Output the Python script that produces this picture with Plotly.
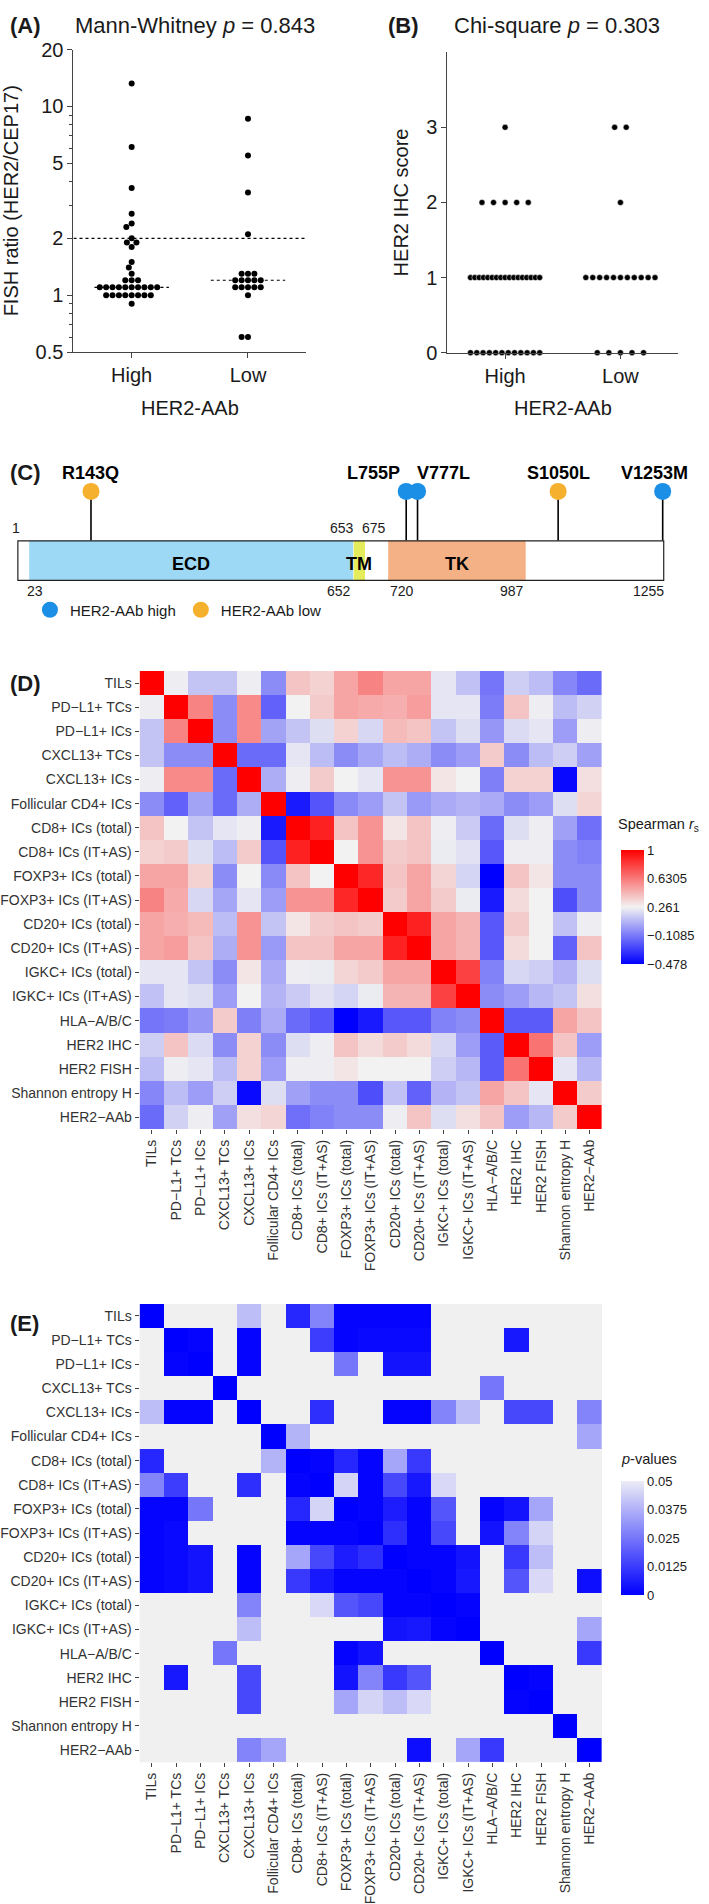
import numpy as np
import plotly.graph_objects as go

W, H = 709, 1904
FONT = "Liberation Sans, Arial, Helvetica, sans-serif"
TXT = "#1a1a1a"


def fx(px):
    return px / W


def fy(py):
    return 1 - py / H


# ---------------- Panel A: FISH ratio ----------------
groups = ["High", "Low"]
fish_high = [13.2, 6.1, 3.7, 2.7, 2.4, 2.3, 2.0, 1.9, 1.9, 1.8, 1.5, 1.4, 1.3,
             1.2, 1.2, 1.2,
             1.1, 1.1, 1.1, 1.1, 1.1, 1.1, 1.1, 1.1, 1.1, 1.1,
             1.0, 1.0, 1.0, 1.0, 1.0, 1.0, 1.0, 1.0,
             0.9]
fish_low = [8.6, 5.5, 3.5, 2.1,
            1.3, 1.3, 1.3,
            1.2, 1.2, 1.2, 1.2, 1.2,
            1.1, 1.1, 1.1, 1.1, 1.1,
            1.0, 0.6, 0.6]
fish_cutoff = 2.0
fish_ticks = [0.5, 1, 2, 5, 10, 20]
fish_minor = [0.6, 0.7, 0.8, 0.9, 3, 4, 6, 7, 8, 9]
mw_p = "0.843"

# ---------------- Panel B: IHC score ----------------
ihc_high = [3, 2, 2, 2, 2, 2,
            1, 1, 1, 1, 1, 1, 1, 1, 1, 1, 1, 1, 1, 1, 1, 1, 1,
            0, 0, 0, 0, 0, 0, 0, 0, 0, 0, 0, 0]
ihc_low = [3, 3, 2,
           1, 1, 1, 1, 1, 1, 1, 1, 1, 1, 1,
           0, 0, 0, 0, 0]
ihc_ticks = [0, 1, 2, 3]
chi_p = "0.303"

# ---------------- Panel C: HER2 protein ----------------
protein_length = 1255
domain_names = ["ECD", "TM", "TK"]
domain_start = [23, 653, 720]
domain_end = [652, 675, 987]
domain_colors = ["#9DD8F4", "#E4EC5C", "#F3B185"]
mutation_labels = ["R143Q", "L755P", "V777L", "S1050L", "V1253M"]
mutation_pos = [143, 755, 777, 1050, 1253]
mutation_group = ["low", "high", "high", "low", "high"]
group_names = {"high": "HER2-AAb high", "low": "HER2-AAb low"}
group_colors = {"high": "#1B8FE6", "low": "#F5B02E"}

# ---------------- Panels D/E: correlation matrices ----------------
feature_labels = ["TILs", "PD−L1+ TCs", "PD−L1+ ICs", "CXCL13+ TCs", "CXCL13+ ICs",
                  "Follicular CD4+ ICs", "CD8+ ICs (total)", "CD8+ ICs (IT+AS)",
                  "FOXP3+ ICs (total)", "FOXP3+ ICs (IT+AS)", "CD20+ ICs (total)",
                  "CD20+ ICs (IT+AS)", "IGKC+ ICs (total)", "IGKC+ ICs (IT+AS)",
                  "HLA−A/B/C", "HER2 IHC", "HER2 FISH", "Shannon entropy H", "HER2−AAb"]

spearman_rs = [
    [1, 0.25, 0.12, 0.12, 0.25, -0.05, 0.4, 0.36, 0.5, 0.6, 0.5, 0.5, 0.22, 0.11, -0.12, 0.15, 0.1, -0.07, -0.15],
    [0.25, 1, 0.6, -0.05, 0.58, -0.18, 0.26, 0.38, 0.5, 0.48, 0.47, 0.52, 0.22, 0.22, -0.1, 0.4, 0.25, 0.1, 0.16],
    [0.12, 0.6, 1, -0.05, 0.58, 0.02, 0.12, 0.2, 0.36, 0.18, 0.43, 0.4, 0.12, 0.2, -0.02, 0.19, 0.22, 0.0, 0.25],
    [0.12, -0.05, -0.05, 1, -0.15, -0.15, 0.22, 0.1, -0.05, 0.03, 0.1, 0.05, -0.05, 0.0, 0.38, -0.05, 0.1, 0.15, 0.01],
    [0.25, 0.58, 0.58, -0.15, 1, 0.05, 0.25, 0.38, 0.26, 0.22, 0.55, 0.55, 0.3, 0.26, -0.09, 0.36, 0.36, -0.45, 0.32],
    [-0.05, -0.18, 0.02, -0.15, 0.05, 1, -0.4, -0.22, -0.06, 0.0, 0.12, -0.01, 0.04, 0.07, 0.04, -0.05, 0.0, 0.2, 0.35],
    [0.4, 0.26, 0.12, 0.22, 0.25, -0.4, 1, 0.9, 0.4, 0.55, 0.3, 0.4, 0.25, 0.14, -0.15, 0.2, 0.25, 0.01, -0.14],
    [0.36, 0.38, 0.2, 0.1, 0.38, -0.22, 0.9, 1, 0.26, 0.55, 0.38, 0.4, 0.24, 0.21, -0.21, 0.25, 0.25, -0.05, -0.08],
    [0.5, 0.5, 0.36, -0.05, 0.26, -0.06, 0.4, 0.26, 1, 0.88, 0.4, 0.5, 0.35, 0.17, -0.478, 0.4, 0.3, -0.05, -0.05],
    [0.6, 0.48, 0.18, 0.03, 0.22, 0.0, 0.55, 0.55, 0.88, 1, 0.38, 0.5, 0.38, 0.24, -0.4, 0.33, 0.26, -0.24, -0.05],
    [0.5, 0.47, 0.43, 0.1, 0.55, 0.12, 0.3, 0.38, 0.4, 0.38, 1, 0.9, 0.5, 0.45, -0.21, 0.38, 0.26, 0.11, 0.25],
    [0.5, 0.52, 0.4, 0.05, 0.55, -0.01, 0.4, 0.4, 0.5, 0.5, 0.9, 1, 0.5, 0.45, -0.21, 0.33, 0.26, -0.18, 0.4],
    [0.22, 0.22, 0.12, -0.05, 0.3, 0.04, 0.25, 0.24, 0.35, 0.38, 0.5, 0.5, 1, 0.8, -0.08, 0.18, 0.15, 0.07, 0.2],
    [0.11, 0.22, 0.2, 0.0, 0.26, 0.07, 0.14, 0.21, 0.17, 0.24, 0.45, 0.45, 0.8, 1, -0.05, 0.0, 0.08, 0.12, 0.32],
    [-0.12, -0.1, -0.02, 0.38, -0.09, 0.04, -0.15, -0.21, -0.478, -0.4, -0.21, -0.21, -0.08, -0.05, 1, -0.2, -0.2, 0.5, 0.4],
    [0.15, 0.4, 0.19, -0.05, 0.36, -0.05, 0.2, 0.25, 0.4, 0.33, 0.38, 0.33, 0.18, 0.0, -0.2, 1, 0.65, 0.4, 0.0],
    [0.1, 0.25, 0.22, 0.1, 0.36, 0.0, 0.25, 0.25, 0.3, 0.26, 0.26, 0.26, 0.15, 0.08, -0.2, 0.65, 1, 0.22, 0.08],
    [-0.07, 0.1, 0.0, 0.15, -0.45, 0.2, 0.01, -0.05, -0.05, -0.24, 0.11, -0.18, 0.07, 0.12, 0.5, 0.4, 0.22, 1, 0.38],
    [-0.15, 0.16, 0.25, 0.01, 0.32, 0.35, -0.14, -0.08, -0.05, -0.05, 0.25, 0.4, 0.2, 0.32, 0.4, 0.0, 0.08, 0.38, 1],
]
rs_ticks = [1, 0.6305, 0.261, -0.1085, -0.478]
rs_ticktext = ["1", "0.6305", "0.261", "−0.1085", "−0.478"]

N = None  # not significant (p > 0.05)
p_values = [
    [0, N, N, N, 0.04, N, 0.008, 0.028, 0.001, 0.001, 0.001, 0.001, N, N, N, N, N, N, N],
    [N, 0, 0.001, N, 0.001, N, N, 0.013, 0.001, 0.002, 0.002, 0.002, N, N, N, 0.005, N, N, N],
    [N, 0.001, 0, N, 0.001, N, N, N, 0.025, N, 0.004, 0.004, N, N, N, N, N, N, N],
    [N, N, N, 0, N, N, N, N, N, N, N, N, N, N, 0.025, N, N, N, N],
    [0.04, 0.001, 0.001, N, 0, N, N, 0.01, N, N, 0.001, 0.001, 0.028, 0.04, N, 0.015, 0.015, N, 0.028],
    [N, N, N, N, N, 0, 0.038, N, N, N, N, N, N, N, N, N, N, N, 0.035],
    [0.008, N, N, N, N, 0.038, 0, 0.001, 0.008, 0.001, 0.035, 0.012, N, N, N, N, N, N, N],
    [0.028, 0.013, N, N, 0.01, N, 0.001, 0, 0.045, 0.001, 0.015, 0.005, 0.046, N, N, N, N, N, N],
    [0.001, 0.001, 0.025, N, N, N, 0.008, 0.045, 0, 0.001, 0.006, 0.001, 0.018, N, 0.001, 0.004, 0.035, N, N],
    [0.001, 0.002, N, N, N, N, 0.001, 0.001, 0.001, 0, 0.01, 0.001, 0.015, N, 0.004, 0.028, 0.045, N, N],
    [0.001, 0.002, 0.004, N, 0.001, N, 0.035, 0.015, 0.006, 0.01, 0, 0.001, 0.001, 0.004, N, 0.012, 0.04, N, N],
    [0.001, 0.002, 0.004, N, 0.001, N, 0.012, 0.005, 0.001, 0.001, 0.001, 0, 0.001, 0.005, N, 0.018, 0.046, N, 0.003],
    [N, N, N, N, 0.028, N, N, 0.046, 0.018, 0.015, 0.001, 0.001, 0, 0.001, N, N, N, N, N],
    [N, N, N, N, 0.04, N, N, N, N, N, 0.004, 0.005, 0.001, 0, N, N, N, N, 0.035],
    [N, N, N, 0.025, N, N, N, N, 0.001, 0.004, N, N, N, N, 0, N, N, N, 0.012],
    [N, 0.005, N, N, 0.015, N, N, N, 0.004, 0.028, 0.012, 0.018, N, N, N, 0, 0.001, N, N],
    [N, N, N, N, 0.015, N, N, N, 0.035, 0.045, 0.04, 0.046, N, N, N, 0.001, 0, N, N],
    [N, N, N, N, N, N, N, N, N, N, N, N, N, N, N, N, N, 0, N],
    [N, N, N, N, 0.028, 0.035, N, N, N, N, N, 0.003, N, 0.035, 0.012, N, N, N, 0],
]
p_ticks = [0.05, 0.0375, 0.025, 0.0125, 0]
p_ticktext = ["0.05", "0.0375", "0.025", "0.0125", "0"]

# ---------------- layout geometry (pixels) ----------------
A_left, A_right, A_top, A_bot = 71.7, 305.0, 39.0, 345.0
B_left, B_right, B_top, B_bot = 446.7, 678.0, 41.7, 345.7
X_UNIT_PX = (A_right - A_left) / 2.0
DOT_PX = 6.0


def beeswarm_offsets(values, d=6.4):
    ymin, ymax = np.log10(fish_ticks[0]), np.log10(fish_ticks[-1])
    ypx = (np.log10(values) - ymin) / (ymax - ymin) * (A_bot - A_top)
    xs = np.zeros(len(values))
    placed = []
    for i in np.argsort(-ypx, kind="stable"):
        cands = [0.0]
        for xj, yj in placed:
            dy = abs(ypx[i] - yj)
            if dy < d:
                dx = np.sqrt(d * d - dy * dy)
                cands += [xj + dx, xj - dx]
        ok = [c for c in cands
              if all((c - xj) ** 2 + (ypx[i] - yj) ** 2 >= d * d - 1e-6 for xj, yj in placed)]
        best = min(ok, key=lambda c: (round(abs(c), 6), c))
        xs[i] = best
        placed.append((best, ypx[i]))
    return xs / X_UNIT_PX


def row_offsets(scores, step_px=11.7, max_px=70.0):
    scores = np.asarray(scores)
    off = np.zeros(len(scores))
    for v in np.unique(scores):
        idx = np.where(scores == v)[0]
        n = len(idx)
        if n > 1:
            step = min(step_px, max_px / (n - 1))
            off[idx] = (np.arange(n) - (n - 1) / 2) * step
    return off / X_UNIT_PX


fig = go.Figure()

# ---- Panel A traces
for gi, vals in enumerate([fish_high, fish_low]):
    vals = np.asarray(vals, dtype=float)
    fig.add_trace(go.Scatter(
        x=gi + beeswarm_offsets(vals), y=vals, mode="markers",
        marker=dict(size=DOT_PX, color="black"), xaxis="x", yaxis="y",
        showlegend=False, cliponaxis=False, hoverinfo="skip"))
    med = float(np.median(vals))
    fig.add_trace(go.Scatter(
        x=[gi - 0.32, gi + 0.32], y=[med, med], mode="lines",
        line=dict(color="black", width=1.1, dash="dot"), xaxis="x", yaxis="y",
        showlegend=False, hoverinfo="skip"))
fig.add_trace(go.Scatter(
    x=[-0.5, 1.5], y=[fish_cutoff, fish_cutoff], mode="lines",
    line=dict(color="black", width=1.1, dash="dot"), xaxis="x", yaxis="y",
    showlegend=False, hoverinfo="skip"))

# ---- Panel B traces
for gi, vals in enumerate([ihc_high, ihc_low]):
    vals = np.asarray(vals, dtype=float)
    fig.add_trace(go.Scatter(
        x=gi + row_offsets(vals), y=vals, mode="markers",
        marker=dict(size=DOT_PX, color="black", line=dict(color="white", width=0.5)),
        xaxis="x2", yaxis="y2", showlegend=False, cliponaxis=False, hoverinfo="skip"))

# ---- Panel C
C_BAR_BOTTOM_PX, C_BAR_PX = 576.0, 40.0
C_DOM_TOP, C_DOM_BOT = 450.0, 600.0
head_y = 2.25
shapes = []
shapes.append(dict(type="rect", xref="x3", yref="y3", x0=1, x1=protein_length, y0=0, y1=1,
                   fillcolor="white", line=dict(width=0), layer="above"))
for s, e, c in zip(domain_start, domain_end, domain_colors):
    shapes.append(dict(type="rect", xref="x3", yref="y3", x0=s, x1=e, y0=0, y1=1,
                       fillcolor=c, line=dict(width=0), layer="above"))
shapes.append(dict(type="rect", xref="x3", yref="y3", x0=1, x1=protein_length, y0=0, y1=1,
                   fillcolor="rgba(0,0,0,0)", line=dict(color="#222", width=1.2), layer="above"))
for p in mutation_pos:
    shapes.append(dict(type="line", xref="x3", yref="y3", x0=p, x1=p, y0=1, y1=head_y,
                       line=dict(color="black", width=1.6), layer="below"))

for g in ["high", "low"]:
    xs = [p for p, gg in zip(mutation_pos, mutation_group) if gg == g]
    fig.add_trace(go.Scatter(
        x=xs, y=[head_y] * len(xs), mode="markers", name=group_names[g],
        marker=dict(size=17, color=group_colors[g]), xaxis="x3", yaxis="y3",
        showlegend=True, cliponaxis=False, hoverinfo="skip"))

annotations = []


def ann(text, xpx, ypx, size, bold=False, xanchor="center", yanchor="middle", angle=0,
        color=TXT):
    annotations.append(dict(
        text=f"<b>{text}</b>" if bold else text, x=fx(xpx), y=fy(ypx), xref="paper",
        yref="paper", xanchor=xanchor, yanchor=yanchor, showarrow=False, textangle=angle,
        font=dict(family=FONT, size=size, color=color)))


label_anchor = {"R143Q": ("center", 0), "L755P": ("right", -4), "V777L": ("left", -3),
                "S1050L": ("center", 0), "V1253M": ("center", -8)}
for lab, p in zip(mutation_labels, mutation_pos):
    xa, xs = label_anchor[lab]
    annotations.append(dict(text=f"<b>{lab}</b>", x=p, y=2.725, xref="x3", yref="y3",
                            xanchor=xa, xshift=xs, showarrow=False,
                            font=dict(family=FONT, size=18, color="black")))
for name, s, e in zip(domain_names, domain_start, domain_end):
    annotations.append(dict(text=f"<b>{name}</b>", x=(s + e) / 2, y=0.42, xref="x3",
                            yref="y3", showarrow=False,
                            font=dict(family=FONT, size=18, color="black")))
num_font = dict(family=FONT, size=14, color=TXT)
annotations.append(dict(text="1", x=1, y=1.33, xref="x3", yref="y3", showarrow=False,
                        xanchor="center", xshift=-2, font=num_font))
annotations.append(dict(text=str(domain_start[1]), x=domain_start[1], y=1.33, xref="x3",
                        yref="y3", showarrow=False, xanchor="right", xshift=2, font=num_font))
annotations.append(dict(text=str(domain_end[1]), x=domain_end[1], y=1.33, xref="x3",
                        yref="y3", showarrow=False, xanchor="left", xshift=-5, font=num_font))
annotations.append(dict(text=str(domain_start[0]), x=domain_start[0], y=-0.27, xref="x3",
                        yref="y3", showarrow=False, xanchor="left", xshift=-4, font=num_font))
annotations.append(dict(text=str(domain_end[0]), x=domain_end[0], y=-0.27, xref="x3",
                        yref="y3", showarrow=False, xanchor="right", font=num_font))
annotations.append(dict(text=str(domain_start[2]), x=domain_start[2], y=-0.27, xref="x3",
                        yref="y3", showarrow=False, xanchor="left", font=num_font))
annotations.append(dict(text=str(domain_end[2]), x=domain_end[2], y=-0.27, xref="x3",
                        yref="y3", showarrow=False, xanchor="right", font=num_font))
annotations.append(dict(text=str(protein_length), x=protein_length, y=-0.27, xref="x3",
                        yref="y3", showarrow=False, xanchor="right", xshift=2, font=num_font))

# ---- Panel D heatmap
fig.add_trace(go.Heatmap(
    z=spearman_rs, x=feature_labels, y=feature_labels, xaxis="x4", yaxis="y4",
    colorscale=[[0, "#0000FF"], [0.5, "#F2F2F2"], [1, "#FF0000"]],
    zmin=rs_ticks[-1], zmax=rs_ticks[0], hoverinfo="skip",
    colorbar=dict(lenmode="pixels", len=113.6, thicknessmode="pixels", thickness=22.6,
                  x=fx(620.7), xanchor="left", y=fy(906.8), yanchor="middle",
                  xpad=0, ypad=0, outlinewidth=0, ticks="", tickvals=rs_ticks,
                  ticktext=rs_ticktext, tickfont=dict(family=FONT, size=13, color=TXT))))

# ---- Panel E heatmap
shapes.append(dict(type="rect", xref="x5 domain", yref="y5 domain", x0=0, x1=1, y0=0, y1=1,
                   fillcolor="#F0F0F0", line=dict(width=0), layer="below"))
fig.add_trace(go.Heatmap(
    z=p_values, x=feature_labels, y=feature_labels, xaxis="x5", yaxis="y5",
    colorscale=[[0, "#0000FF"], [1, "#ECECF6"]], zmin=0, zmax=p_ticks[0],
    hoverinfo="skip",
    colorbar=dict(lenmode="pixels", len=114, thicknessmode="pixels", thickness=22.6,
                  x=fx(620.7), xanchor="left", y=fy(1545), yanchor="middle",
                  xpad=0, ypad=0, outlinewidth=0, ticks="", tickvals=p_ticks,
                  ticktext=p_ticktext, tickfont=dict(family=FONT, size=13, color=TXT))))

# ---- texts
ann("(A)", 6, 15, 22, bold=True, xanchor="left")
ann("Mann-Whitney <i>p</i> = " + mw_p, 194, 15, 22)
ann("(B)", 385, 15, 22, bold=True, xanchor="left")
ann("Chi-square <i>p</i> = " + chi_p, 557, 15, 22)
ann("HER2-AAb", (A_left + A_right) / 2, 402, 20)
ann("HER2-AAb", (B_left + B_right) / 2, 402, 20)
ann("(C)", 6, 467, 22, bold=True, xanchor="left")
ann("(D)", 6, 680, 22, bold=True, xanchor="left")
ann("(E)", 6, 1328, 22, bold=True, xanchor="left")
ann("Spearman <i>r</i><sub>s</sub>", 616, 824, 14.5, xanchor="left")
ann("<i>p</i>-values", 619, 1465, 14.5, xanchor="left")

axis_common = dict(showgrid=False, zeroline=False, showline=True, linecolor="#444",
                   linewidth=1.2, ticks="outside", ticklen=5, tickcolor="#444",
                   tickfont=dict(family=FONT, size=20, color=TXT))
hm_axis = dict(showgrid=False, zeroline=False, showline=False, ticks="outside", ticklen=4,
               tickcolor="#444", tickfont=dict(family=FONT, size=14, color="#333"))
ytitle_font = dict(family=FONT, size=20, color=TXT)

fig.update_layout(
    width=W, height=H, margin=dict(l=0, r=0, t=0, b=0),
    paper_bgcolor="white", plot_bgcolor="rgba(0,0,0,0)",
    font=dict(family=FONT, color=TXT),
    xaxis=dict(domain=[fx(A_left), fx(A_right)], range=[-0.5, 1.5], tickvals=[0, 1],
               ticktext=groups, anchor="y", **axis_common),
    yaxis=dict(domain=[fy(A_bot), fy(A_top)], type="log",
               range=[np.log10(fish_ticks[0]), np.log10(fish_ticks[-1])],
               tickvals=fish_ticks, ticktext=[f"{t:g}" for t in fish_ticks], anchor="x",
               minor=dict(tickvals=fish_minor, ticks="outside", ticklen=3, tickcolor="#444"),
               title=dict(text="FISH ratio (HER2/CEP17)", font=ytitle_font, standoff=12),
               **axis_common),
    xaxis2=dict(domain=[fx(B_left), fx(B_right)], range=[-0.5, 1.5], tickvals=[0, 1],
                ticktext=groups, anchor="y2", **axis_common),
    yaxis2=dict(domain=[fy(B_bot), fy(B_top)], range=[0, 4], tickvals=ihc_ticks,
                anchor="x2", title=dict(text="HER2 IHC score", font=ytitle_font, standoff=12),
                **axis_common),
    xaxis3=dict(domain=[0, 1], anchor="y3", visible=False,
                range=[1 - 15.9 / 0.5165, 1 + (W - 15.9) / 0.5165]),
    yaxis3=dict(domain=[fy(C_DOM_BOT), fy(C_DOM_TOP)], anchor="x3", visible=False,
                range=[(C_BAR_BOTTOM_PX - C_DOM_BOT) / C_BAR_PX,
                       (C_BAR_BOTTOM_PX - C_DOM_TOP) / C_BAR_PX]),
    xaxis4=dict(domain=[fx(138), fx(601.7)], anchor="y4", tickangle=-90, **hm_axis),
    yaxis4=dict(domain=[fy(1131.3), fy(667.7)], anchor="x4", autorange="reversed", **hm_axis),
    xaxis5=dict(domain=[fx(138), fx(601.7)], anchor="y5", tickangle=-90, **hm_axis),
    yaxis5=dict(domain=[fy(1771.6), fy(1308)], anchor="x5", autorange="reversed", **hm_axis),
    legend=dict(orientation="h", x=fx(28), y=fy(606), xanchor="left", yanchor="middle",
                font=dict(family=FONT, size=15, color=TXT), bgcolor="rgba(0,0,0,0)"),
    shapes=shapes, annotations=annotations,
)

fig.write_html("out.html", config={"displayModeBar": False},
               post_script="document.body.style.margin='0px';")
